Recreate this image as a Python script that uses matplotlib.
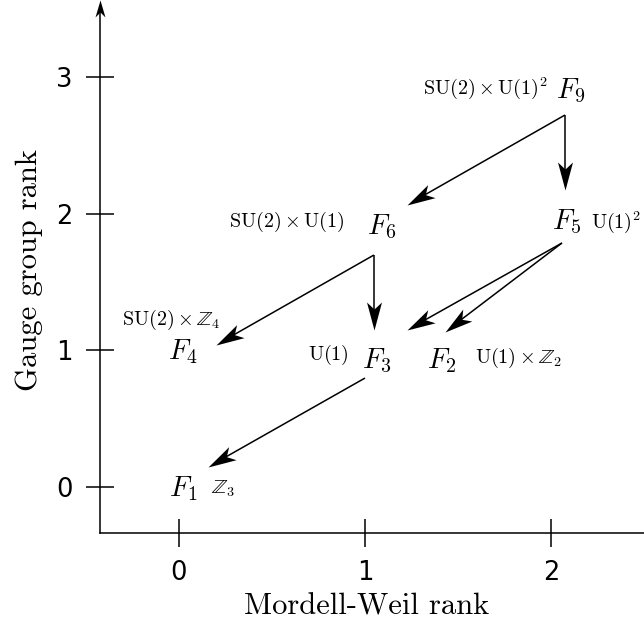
import numpy as np
import matplotlib
matplotlib.use("Agg")
import matplotlib.pyplot as plt
from matplotlib.path import Path
from matplotlib.markers import MarkerStyle
from matplotlib.transforms import Affine2D

plt.rcParams["mathtext.fontset"] = "cm"

# fibre labels (centres of the F_i labels) and their gauge groups
names = ["F_1", "F_2", "F_3", "F_4", "F_5", "F_6", "F_9"]
name_x = [0.022, 1.414, 1.065, 0.022, 2.086, 1.091, 2.108]
name_y = [-0.015, 0.922, 0.922, 0.988, 1.939, 1.902, 2.897]

groups = [r"\mathbb{Z}_3", r"\mathrm{U}(1)\times\mathbb{Z}_2", r"\mathrm{U}(1)",
          r"\mathrm{SU}(2)\times\mathbb{Z}_4", r"\mathrm{U}(1)^2",
          r"\mathrm{SU}(2)\times\mathrm{U}(1)", r"\mathrm{SU}(2)\times\mathrm{U}(1)^2"]
group_x = [0.237, 1.823, 0.801, -0.043, 2.349, 0.581, 1.645]
group_y = [-0.015, 0.944, 0.966, 1.222, 1.939, 1.939, 2.919]

# arrows (start -> tip)
arr_x0 = [2.075, 2.075, 1.048, 1.048, 2.059, 2.059, 1.000]
arr_y0 = [2.721, 2.721, 1.697, 1.697, 1.785, 1.785, 0.797]
arr_x1 = [2.075, 1.226, 0.199, 1.048, 1.226, 1.430, 0.156]
arr_y1 = [2.173, 2.063, 1.039, 1.148, 1.148, 1.134, 0.146]

xticks = [0, 1, 2]
yticks = [0, 1, 2, 3]

fig = plt.figure(figsize=(6.44, 6.23), dpi=100)
ax = fig.add_axes([100 / 644, 90 / 623, 544 / 644, 533 / 623])
ax.set_xlim(-0.4247, 2.5)
ax.set_ylim(-0.3365, 3.5625)

for s in ["top", "right", "left"]:
    ax.spines[s].set_visible(False)
ax.spines["bottom"].set_linewidth(1.1)

ax.set_xticks(xticks)
ax.set_yticks(yticks)
ax.tick_params(direction="inout", length=19.5, width=1.1, labelsize=18.5, pad=10)

ax.set_xlabel("Mordell-Weil rank", fontfamily="cmr10", fontsize=22)
ax.set_ylabel("Gauge group rank", fontfamily="cmr10", fontsize=22)
ax.xaxis.set_label_coords(0.491, -0.113)
ax.yaxis.set_label_coords(-0.104, 0.493)

# stealth arrow head, tip at origin pointing +x
head = Path([(0, 0), (-28, 7.5), (-21, 0), (-28, -7.5), (0, 0)],
            [Path.MOVETO, Path.LINETO, Path.LINETO, Path.LINETO, Path.CLOSEPOLY])
head_small = Path([(0, 0), (-17, 5), (-12, 0), (-17, -5), (0, 0)],
                  [Path.MOVETO, Path.LINETO, Path.LINETO, Path.LINETO, Path.CLOSEPOLY])


def draw_arrow(x0, y0, x1, y1):
    p0 = ax.transData.transform((x0, y0))
    p1 = ax.transData.transform((x1, y1))
    d = p1 - p0
    ang = np.degrees(np.arctan2(d[1], d[0]))
    n = d / np.hypot(*d)
    back = ax.transData.inverted().transform(p1 - n * 20)
    ax.plot([x0, back[0]], [y0, back[1]], color="black", lw=1.1,
            solid_capstyle="butt")
    m = MarkerStyle(head, transform=Affine2D().rotate_deg(ang))
    ax.plot([x1], [y1], marker=m, markersize=2 * 28 * 0.72, color="black",
            markeredgewidth=0, linestyle="none")


for i in range(len(arr_x0)):
    draw_arrow(arr_x0[i], arr_y0[i], arr_x1[i], arr_y1[i])

# y axis as an arrow
ax.plot([0, 0], [0, 0.985], transform=ax.transAxes, color="black", lw=1.1,
        clip_on=False)
ym = MarkerStyle(head_small, transform=Affine2D().rotate_deg(90))
ax.plot([0], [1], transform=ax.transAxes, marker=ym, markersize=2 * 17 * 0.72,
        color="black", markeredgewidth=0, clip_on=False)

for i in range(len(names)):
    ax.text(name_x[i], name_y[i], "$" + names[i] + "$", fontsize=20.5,
            ha="center", va="center")
    ax.text(group_x[i], group_y[i], "$" + groups[i] + "$", fontsize=14.5,
            ha="center", va="center")

fig.savefig("out.png", dpi=100)
